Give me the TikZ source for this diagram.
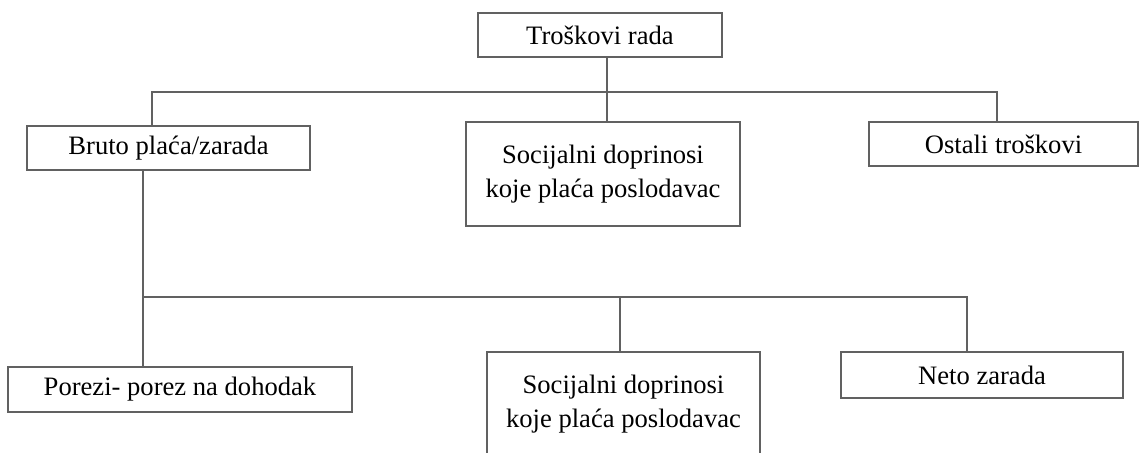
\documentclass[tikz,border=0pt]{standalone}
\usepackage{fontspec}
\setmainfont{Liberation Serif}
\tikzset{
  box/.style={draw=black!62, line width=0.8pt, fill=white, inner sep=0pt, align=center,
    font=\fontsize{13.3}{17}\selectfont, text=black},
  conn/.style={draw=black!62, line width=0.8pt}
}
\begin{document}
\begin{tikzpicture}[x=0.5pt,y=-0.5pt]
\useasboundingbox (0,0) rectangle (1140,452);
\clip (0,0) rectangle (1140,452);
\node[box, minimum width=122pt, minimum height=22pt] (top) at (600,35) {Troškovi rada};
\node[box, minimum width=141.5pt, minimum height=22pt] (bruto) at (168.5,148) {Bruto plaća/zarada};
\node[box, minimum width=137pt, minimum height=52pt] (soc1) at (603,174) {Socijalni doprinosi\\koje plaća poslodavac};
\node[box, minimum width=134.5pt, minimum height=22pt] (ostali) at (1003.5,144) {Ostali troškovi};
\node[box, minimum width=172pt, minimum height=22.5pt] (porezi) at (180,389.5) {Porezi- porez na dohodak};
\node[box, minimum width=136.5pt, minimum height=52pt] (soc2) at (623.5,404) {Socijalni doprinosi\\koje plaća poslodavac};
\node[box, minimum width=141pt, minimum height=23pt] (neto) at (982,375) {Neto zarada};
\coordinate (jt) at (607,92);
\coordinate (jl) at (152,92);
\coordinate (jr) at (997,92);
\coordinate (jb) at (143,297);
\coordinate (jm) at (620,297);
\coordinate (jn) at (967,297);
\draw[conn] (jt |- top.south) -- (jt |- soc1.north);
\draw[conn] (jl |- bruto.north) -- (jl) -- (jr) -- (jr |- ostali.north);
\draw[conn] (jb |- bruto.south) -- (jb |- porezi.north);
\draw[conn] (jb) -- (jn) -- (jn |- neto.north);
\draw[conn] (jm) -- (jm |- soc2.north);
\end{tikzpicture}
\end{document}
